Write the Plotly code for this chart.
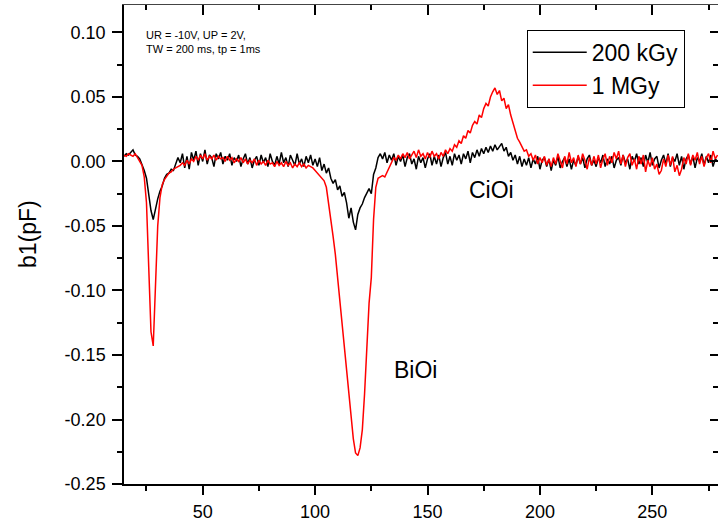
import plotly.graph_objects as go

# ---------------- data ----------------
temperature = list(range(15, 280))  # K, 1 K steps

b1_200kGy = [
    0.004, 0.006, 0.005, 0.007, 0.009, 0.005, 0.004, 0.002, -0.002, -0.007,
    -0.013, -0.024, -0.038, -0.045, -0.036, -0.029, -0.023, -0.019, -0.013, -0.010,
    -0.009, -0.006, -0.007, -0.002, 0.003, -0.001, 0.006, -0.005, 0.004, -0.006,
    0.007, 0.001, 0.008, -0.003, 0.006, 0.000, 0.009, -0.002, 0.005, 0.003,
    -0.004, 0.006, 0.002, 0.007, -0.002, 0.004, 0.001, 0.006, -0.003, 0.003,
    0.000, 0.005, -0.004, 0.002, 0.006, -0.002, 0.003, -0.005, 0.001, 0.004,
    -0.003, 0.005, -0.001, 0.003, -0.004, 0.006, 0.000, -0.003, 0.004, -0.002,
    0.007, -0.001, 0.003, -0.004, 0.005, 0.001, -0.003, 0.006, -0.002, 0.002,
    -0.004, 0.004, -0.001, 0.005, -0.003, 0.002, -0.004, 0.003, -0.007, -0.002,
    -0.009, -0.005, -0.013, -0.017, -0.014, -0.022, -0.019, -0.027, -0.024, -0.032,
    -0.044, -0.036, -0.047, -0.053, -0.041, -0.036, -0.033, -0.028, -0.024, -0.021,
    -0.025, -0.010, -0.005, 0.003, 0.006, 0.002, 0.007, -0.001, 0.005, 0.001,
    0.006, -0.003, 0.004, 0.000, 0.005, -0.004, 0.003, 0.006, -0.002, 0.002,
    -0.006, 0.004, -0.001, 0.003, -0.005, 0.002, 0.006, -0.003, 0.004, -0.002,
    0.005, -0.004, 0.003, 0.007, -0.002, 0.004, -0.003, 0.006, 0.001, 0.005,
    -0.002, 0.006, 0.002, 0.008, -0.001, 0.007, 0.003, 0.009, 0.004, 0.010,
    0.006, 0.011, 0.007, 0.012, 0.008, 0.013, 0.009, 0.012, 0.014, 0.008,
    0.011, 0.004, 0.007, 0.001, 0.005, -0.002, 0.004, -0.004, 0.002, -0.003,
    0.003, -0.005, 0.002, -0.002, 0.004, -0.006, 0.001, 0.003, -0.004, 0.002,
    -0.007, 0.001, -0.003, 0.004, -0.005, 0.000, 0.003, -0.004, 0.002, -0.006,
    0.001, -0.003, 0.004, -0.002, 0.003, -0.005, 0.002, 0.005, -0.003, 0.001,
    -0.004, 0.003, -0.001, 0.005, -0.004, 0.002, -0.002, 0.004, -0.005, 0.001,
    0.003, -0.003, 0.005, -0.001, 0.002, -0.006, 0.004, 0.000, 0.006, -0.002,
    0.003, -0.004, 0.005, -0.001, 0.007, -0.003, 0.002, 0.004, -0.005, 0.001,
    0.005, -0.002, 0.006, -0.004, 0.003, 0.000, 0.006, -0.003, 0.004, -0.006,
    0.002, 0.005, -0.002, 0.004, -0.005, 0.003, 0.000, 0.006, -0.003, 0.004,
    -0.001, 0.005, -0.004, 0.002, 0.000,
]

b1_1MGy = [
    0.005, 0.004, 0.006, 0.005, 0.004, 0.006, 0.003, 0.001, -0.003, -0.012,
    -0.032, -0.082, -0.132, -0.143, -0.095, -0.050, -0.028, -0.018, -0.014, -0.011,
    -0.009, -0.008, -0.006, -0.005, -0.004, -0.003, -0.001, -0.003, 0.001, -0.002,
    0.002, 0.000, 0.004, 0.001, 0.005, 0.002, 0.006, 0.001, 0.004, 0.002,
    0.005, 0.001, 0.004, 0.002, 0.003, 0.000, 0.004, 0.001, 0.003, -0.001,
    0.002, 0.000, 0.003, -0.001, 0.002, -0.002, 0.001, -0.001, 0.002, -0.003,
    0.001, -0.002, 0.000, -0.003, 0.001, -0.002, -0.001, -0.004, 0.000, -0.003,
    -0.001, -0.004, 0.000, -0.003, -0.001, -0.005, -0.002, -0.004, -0.001, -0.004,
    -0.002, -0.005, -0.003, -0.004, -0.005, -0.007, -0.009, -0.011, -0.013, -0.015,
    -0.020, -0.032, -0.045, -0.058, -0.072, -0.090, -0.108, -0.128, -0.148, -0.165,
    -0.180, -0.200, -0.215, -0.226, -0.228, -0.222, -0.208, -0.180, -0.148, -0.110,
    -0.090, -0.045, -0.020, -0.013, -0.012, -0.011, -0.012, -0.008, -0.004, 0.000,
    0.003, 0.001, 0.005, 0.002, 0.006, 0.003, 0.007, 0.002, 0.005, 0.008,
    0.003, 0.009, 0.004, 0.006, 0.002, 0.007, 0.003, 0.008, 0.004, 0.006,
    0.002, 0.007, 0.004, 0.009, 0.006, 0.010, 0.008, 0.013, 0.011, 0.016,
    0.014, 0.020, 0.018, 0.024, 0.022, 0.028, 0.031, 0.029, 0.036, 0.034,
    0.041, 0.045, 0.043, 0.050, 0.054, 0.057, 0.052, 0.055, 0.047, 0.049,
    0.041, 0.044, 0.036, 0.030, 0.026, 0.018, 0.015, 0.011, 0.008, 0.009,
    0.004, 0.006, 0.001, 0.005, -0.002, 0.003, -0.001, 0.004, -0.003, 0.002,
    -0.004, 0.003, -0.002, 0.006, 0.000, -0.005, 0.004, -0.002, 0.007, -0.001,
    0.003, -0.004, 0.005, -0.002, 0.006, 0.001, -0.006, 0.003, -0.003, 0.004,
    -0.002, 0.005, -0.005, 0.002, 0.006, -0.003, 0.004, -0.001, 0.007, 0.002,
    0.008, -0.002, 0.005, -0.004, 0.003, 0.006, -0.003, 0.002, -0.006, 0.004,
    -0.002, 0.005, -0.008, 0.001, -0.004, 0.003, -0.006, -0.002, -0.010, -0.007,
    0.002, -0.004, 0.005, -0.003, 0.004, -0.008, -0.003, -0.011, -0.006, 0.003,
    -0.002, 0.006, -0.003, 0.005, 0.001, 0.007, -0.002, 0.004, -0.004, 0.003,
    0.006, -0.001, 0.008, 0.002, 0.005,
]

series_names = ["200 kGy", "1 MGy"]
x_tick_values = [50, 100, 150, 200, 250]
y_tick_values = [-0.25, -0.20, -0.15, -0.10, -0.05, 0.00, 0.05, 0.10]
y_tick_labels = ["-0.25", "-0.20", "-0.15", "-0.10", "-0.05", "0.00", "0.05", "0.10"]
peak_labels = [("BiOi", 144.5, -0.162), ("CiOi", 178.5, -0.022)]
conditions_text = "UR = -10V, UP = 2V,<br>TW = 200 ms, tp = 1ms"

# ---------------- figure ----------------
FONT = "Liberation Sans, Arial, Helvetica, sans-serif"
X_RANGE = [15, 279.2]
Y_RANGE = [-0.25, 0.1213]

fig = go.Figure()
fig.add_trace(go.Scatter(x=temperature, y=b1_200kGy, mode="lines", name=series_names[0],
                         line=dict(color="#000000", width=1.5)))
fig.add_trace(go.Scatter(x=temperature, y=b1_1MGy, mode="lines", name=series_names[1],
                         line=dict(color="#ff0000", width=1.5)))

axis_common = dict(showgrid=False, zeroline=False)

fig.update_layout(
    width=718, height=522,
    margin=dict(l=124, r=0, t=5, b=38),
    paper_bgcolor="white", plot_bgcolor="white",
    font=dict(family=FONT, color="black", size=18),
    xaxis=dict(
        **axis_common, range=X_RANGE, showline=True, linecolor="black", linewidth=1.5,
        ticks="outside", ticklen=9, tickwidth=1.5, tickcolor="black",
        tickmode="array", tickvals=x_tick_values,
        tickfont=dict(size=18, family=FONT), ticklabelstandoff=2,
        minor=dict(ticks="outside", ticklen=5, tickwidth=1.5, tickcolor="black",
                   dtick=25, tick0=0),
    ),
    yaxis=dict(
        **axis_common, range=Y_RANGE, showline=True, linecolor="black", linewidth=1.5,
        ticks="outside", ticklen=10, tickwidth=1.5, tickcolor="black",
        tickmode="array", tickvals=y_tick_values, ticktext=y_tick_labels,
        tickfont=dict(size=18, family=FONT), ticklabelstandoff=3,
        minor=dict(ticks="outside", ticklen=5, tickwidth=1.5, tickcolor="black",
                   dtick=0.025, tick0=0),
    ),
    xaxis2=dict(
        **axis_common, overlaying="x", side="top", range=X_RANGE, anchor="y2",
        showline=True, linecolor="#444444", linewidth=1.2,
        ticks="inside", ticklen=10, tickwidth=1.5, tickcolor="black",
        tickmode="array", tickvals=x_tick_values, showticklabels=False,
        minor=dict(ticks="inside", ticklen=5, tickwidth=1.5, tickcolor="black",
                   dtick=25, tick0=0),
    ),
    yaxis2=dict(
        **axis_common, overlaying="y", side="right", range=Y_RANGE, anchor="x2",
        showline=False,
        ticks="inside", ticklen=8, tickwidth=1.5, tickcolor="black",
        tickmode="array", tickvals=y_tick_values, showticklabels=False,
        minor=dict(ticks="inside", ticklen=5, tickwidth=1.5, tickcolor="black",
                   dtick=0.025, tick0=0),
    ),
    legend=dict(
        x=0.678, y=0.948, xanchor="left", yanchor="top",
        bordercolor="black", borderwidth=1, bgcolor="white",
        font=dict(size=23, family=FONT), itemwidth=54,
        tracegroupgap=0,
    ),
    showlegend=True,
)

# invisible carrier trace so the mirror axes are drawn
fig.add_trace(go.Scatter(x=[], y=[], xaxis="x2", yaxis="y2", showlegend=False,
                         hoverinfo="skip"))

# y-axis title
fig.add_annotation(text="b1(pF)", xref="paper", yref="paper", x=-0.1616, y=0.522,
                   textangle=-90, showarrow=False, font=dict(size=23, family=FONT),
                   xanchor="center", yanchor="middle")

# measurement conditions
fig.add_annotation(text=conditions_text, xref="paper", yref="paper", x=0.033, y=0.955,
                   xanchor="left", yanchor="top", align="left", showarrow=False,
                   font=dict(size=11, family=FONT))

for label, lx, ly in peak_labels:
    fig.add_annotation(text=label, x=lx, y=ly, xref="x", yref="y", showarrow=False,
                       font=dict(size=23, family=FONT), xanchor="center", yanchor="middle")

fig.write_html("out.html")
